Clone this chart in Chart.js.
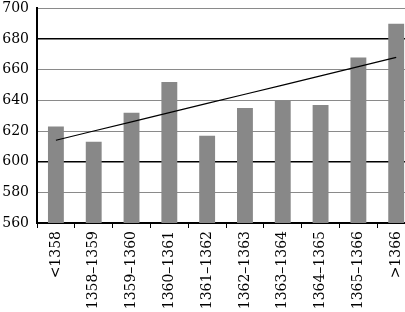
<!DOCTYPE html>
<html lang="en">
<head>
<meta charset="UTF-8">
<title>Bar chart with trend</title>
<style>
    html, body { margin: 0; padding: 0; background: #fff; overflow: hidden; }
    #wrap { width: 416px; height: 320px; margin-top: -8px; }
</style>
</head>
<body>
<div id="wrap"><canvas id="chart"></canvas></div>
<script src="https://cdn.jsdelivr.net/npm/chart.js"></script>
<script>
var categories = ['<1358', '1358–1359', '1359–1360', '1360–1361', '1361–1362',
                  '1362–1363', '1363–1364', '1364–1365', '1365–1366', '>1366'];
var values = [623, 613, 632, 652, 617, 635, 640, 637, 668, 690];
var trend = [614, 620, 626, 632, 638, 644, 650, 656, 662, 668];
var yTicks = [560, 580, 600, 620, 640, 660, 680, 700];
var darkLines = [600, 680];

var ctx = document.getElementById('chart').getContext('2d');
new Chart(ctx, {
    type: 'bar',
    data: {
        labels: categories,
        datasets: [{
            type: 'line',
            data: trend,
            borderColor: '#000',
            borderWidth: 1.2,
            pointRadius: 0,
            order: 0
        }, {
            data: values,
            backgroundColor: '#888888',
            categoryPercentage: 1,
            barPercentage: 0.42,
            order: 1
        }]
    },
    options: {
        responsive: true,
        maintainAspectRatio: false,
        animation: false,
        plugins: { legend: { display: false }, tooltip: { enabled: false } },
        scales: {
            x: {
                afterFit: function(axis) { axis.height = 89; },
                grid: { drawOnChartArea: false, color: '#000', tickLength: 5, lineWidth: 1 },
                border: { color: '#000', width: 2 },
                ticks: {
                    color: '#000',
                    font: { family: 'DejaVu Serif', size: 14 },
                    minRotation: 90,
                    maxRotation: 90,
                    autoSkip: false,
                    padding: 3
                }
            },
            y: {
                min: 560,
                max: 700,
                afterFit: function(axis) { axis.width = 37; },
                afterBuildTicks: function(axis) {
                    axis.ticks = yTicks.map(function(v) { return { value: v }; });
                },
                grid: {
                    drawTicks: false,
                    color: function(c) {
                        return darkLines.indexOf(c.tick.value) >= 0 ? '#000' : '#8a8a8a';
                    },
                    lineWidth: function(c) {
                        return darkLines.indexOf(c.tick.value) >= 0 ? 1.6 : 1;
                    }
                },
                border: { color: '#000', width: 2 },
                ticks: {
                    color: '#000',
                    font: { family: 'DejaVu Serif', size: 14 },
                    padding: 8
                }
            }
        }
    }
});
</script>
</body>
</html>
